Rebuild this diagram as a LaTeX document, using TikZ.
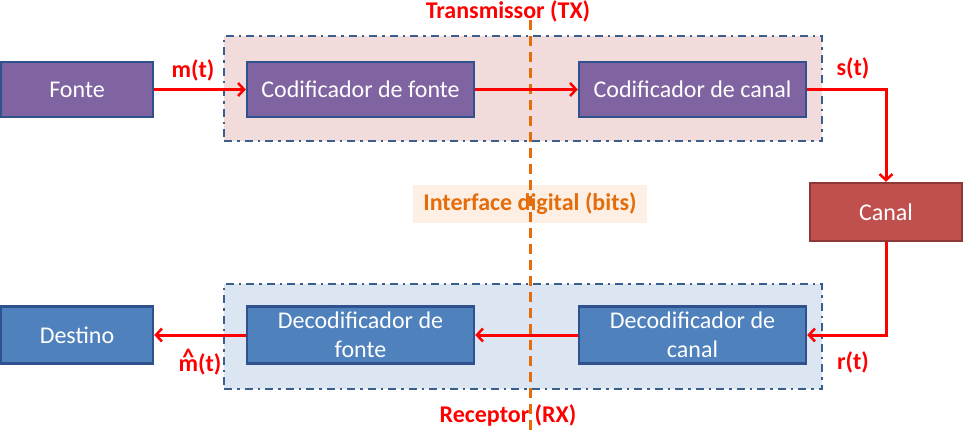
\documentclass[tikz,border=0pt]{standalone}
\usepackage{fontspec}
\setmainfont{Carlito}
\usetikzlibrary{arrows.meta}
\definecolor{purp}{HTML}{8064A2}
\definecolor{bord}{HTML}{2F528F}
\definecolor{bluef}{HTML}{4F81BD}
\definecolor{redf}{HTML}{C0504D}
\definecolor{redb}{HTML}{8C3836}
\definecolor{txbg}{HTML}{F2DCDB}
\definecolor{rxbg}{HTML}{DCE6F2}
\definecolor{grpb}{HTML}{3A5F8C}
\definecolor{orng}{HTML}{E46C0A}
\definecolor{ifbg}{HTML}{FDEFE4}
\definecolor{sig}{HTML}{FF0000}
\tikzset{
  blk/.style={draw=bord, line width=2.5pt, text=white, font=\fontsize{24}{29}\selectfont, align=center, inner sep=0pt},
  pblk/.style={blk, fill=purp},
  bblk/.style={blk, fill=bluef},
  grp/.style={draw=grpb, line width=2.5pt, dash pattern=on 8pt off 5pt on 2.5pt off 5pt},
  con/.style={draw=sig, line width=3pt, -{Straight Barb[length=6pt,width=13pt,line width=2.5pt]}},
  lbl/.style={text=sig, font=\fontsize{24}{29}\selectfont\bfseries, inner sep=0pt},
}
\begin{document}
\begin{tikzpicture}[x=1pt,y=-1pt]
\useasboundingbox (0,0) rectangle (963,434);
% group boxes
\node[grp, fill=txbg, minimum width=598pt, minimum height=105pt] (tx) at (523,88.5) {};
\node[grp, fill=rxbg, minimum width=598pt, minimum height=105pt] (rx) at (523,336.5) {};
% interface box
\node[fill=ifbg, minimum width=234pt, minimum height=38pt, text=orng, font=\fontsize{24}{29}\selectfont\bfseries, inner sep=0pt] (iface) at (530,204) {Interface digital (bits)};
% dashed line
\coordinate (dtop) at (530,20);
\coordinate (dbot) at (530,434);
\draw[draw=orng, line width=3pt, dash pattern=on 10pt off 6pt] (dtop) -- (dbot);
% blocks
\node[pblk, minimum width=152pt, minimum height=55pt] (fonte) at (77,89.5) {Fonte};
\node[pblk, minimum width=227pt, minimum height=55pt] (cf) at (360.5,89.5) {Codificador de fonte};
\node[pblk, minimum width=227pt, minimum height=55pt] (cc) at (692.5,89.5) {Codificador de canal};
\node[blk, draw=redb, fill=redf, minimum width=152pt, minimum height=58pt] (canal) at (886,212) {Canal};
\node[bblk, minimum width=227pt, minimum height=57pt] (dc) at (692.5,335) {Decodificador de\\canal};
\node[bblk, minimum width=227pt, minimum height=57pt] (df) at (360.5,335) {Decodificador de\\fonte};
\node[bblk, minimum width=152pt, minimum height=57pt] (dest) at (77,335) {Destino};
% titles
\node[lbl] (txl) at (508,11) {Transmissor (TX)};
\node[lbl] (rxl) at (508,415) {Receptor (RX)};
% connectors
\draw[con] (fonte) -- (cf);
\draw[con] (cf) -- (cc);
\draw[con] (cc.east) -| (canal.north);
\draw[con] (canal.south) |- (dc.east);
\draw[con] (dc) -- (df);
\draw[con] (df) -- (dest);
% signal labels
\node[lbl] (mt) at (193,70) {m(t)};
\node[lbl] (st) at (853,68) {s(t)};
\node[lbl] (rt) at (853,362) {r(t)};
\node[lbl] (mht) at (200,364) {\ooalign{m\cr\hidewidth\raisebox{0.45ex}{\textasciicircum}\hidewidth\cr}(t)};
\end{tikzpicture}
\end{document}
